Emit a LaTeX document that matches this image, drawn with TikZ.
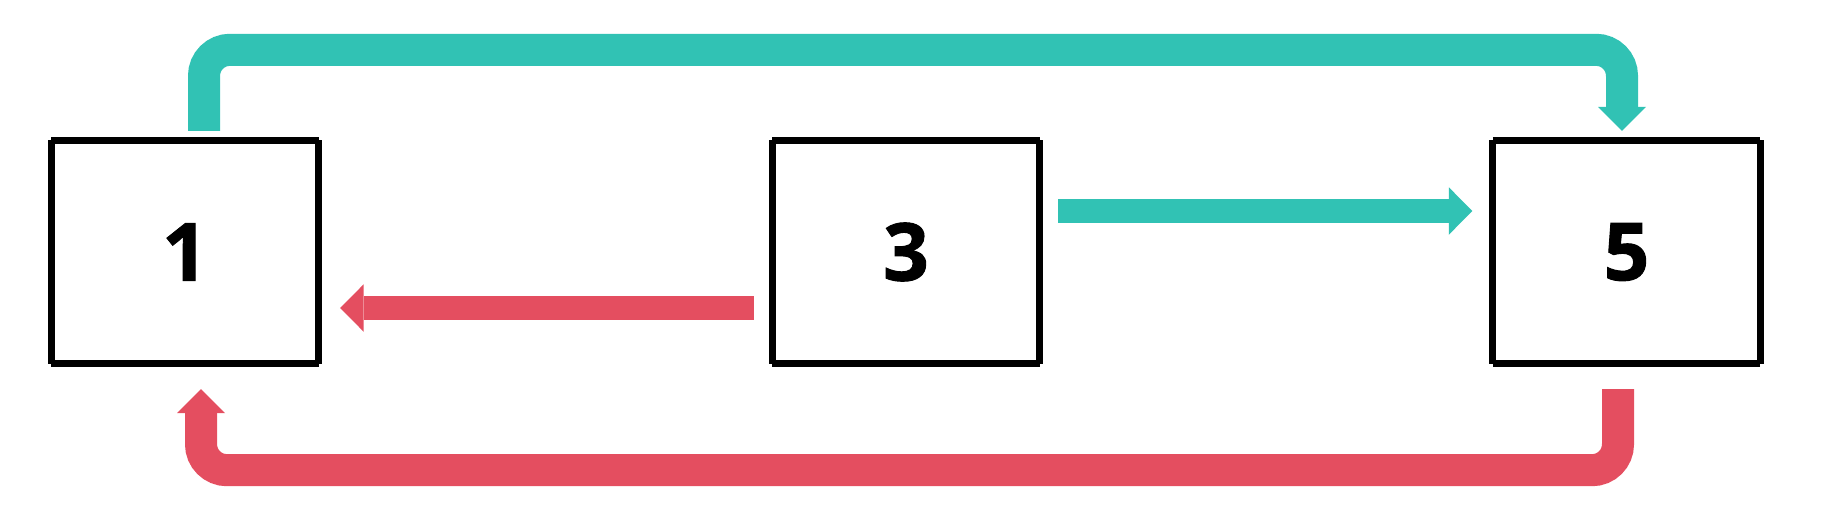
\documentclass[tikz,border=0pt]{standalone}
\usepackage{fontspec}
\setsansfont{Open Sans}[BoldFeatures={FakeBold=1.2}]
\usetikzlibrary{arrows.meta,calc}
\definecolor{tealc}{HTML}{31C2B4}
\definecolor{redc}{HTML}{E44E60}
\tikzset{
  box/.style={draw=none, minimum width=267pt, minimum height=223pt, inner sep=0pt,
    font=\sffamily\bfseries\fontsize{80}{80}\selectfont},
  border/.style={draw=black, line width=7pt, line cap=butt},
  bigarrow/.style={line width=32pt, line cap=butt, rounded corners=26pt,
    -{Triangle[length=24pt, width=48pt, line width=0pt]}},
  midarrow/.style={line width=24pt, line cap=butt,
    -{Triangle[length=23.5pt, width=47.5pt, line width=0pt]}},
}
\begin{document}
\begin{tikzpicture}[x=1pt, y=-1pt]
\useasboundingbox (0,0) rectangle (1848,525);
\node[box] (b1) at (185,252) {1};
\node[box] (b3) at (906,252) {3};
\node[box] (b5) at (1626.5,252) {5};
\foreach \n in {b1,b3,b5}{
  \draw[border] (\n.north west) -- (\n.north east)
                (\n.north east) -- (\n.south east)
                (\n.south east) -- (\n.south west)
                (\n.south west) -- (\n.north west);
}
% top teal connector 1 -> 5
\coordinate (ts) at ([xshift=19pt, yshift=9.5pt]b1.north);
\coordinate (te) at ([xshift=-4.5pt, yshift=9.5pt]b5.north);
\draw[bigarrow, draw=tealc] (ts) -- ++(0,-81) -| (te);
% bottom red connector 5 -> 1
\coordinate (rs) at ([xshift=-8.5pt, yshift=-25.5pt]b5.south);
\coordinate (re) at ([xshift=16pt, yshift=-25.5pt]b1.south);
\draw[bigarrow, draw=redc] (rs) -- ++(0,81) -| (re);
% middle teal 3 -> 5
\draw[midarrow, draw=tealc] ([xshift=18.5pt, yshift=41pt]b3.east) -- ([xshift=-20.5pt, yshift=41pt]b5.west);
% middle red 3 -> 1
\draw[midarrow, draw=redc] ([xshift=-18.5pt, yshift=-56pt]b3.west) -- ([xshift=21.5pt, yshift=-56pt]b1.east);
\end{tikzpicture}
\end{document}
